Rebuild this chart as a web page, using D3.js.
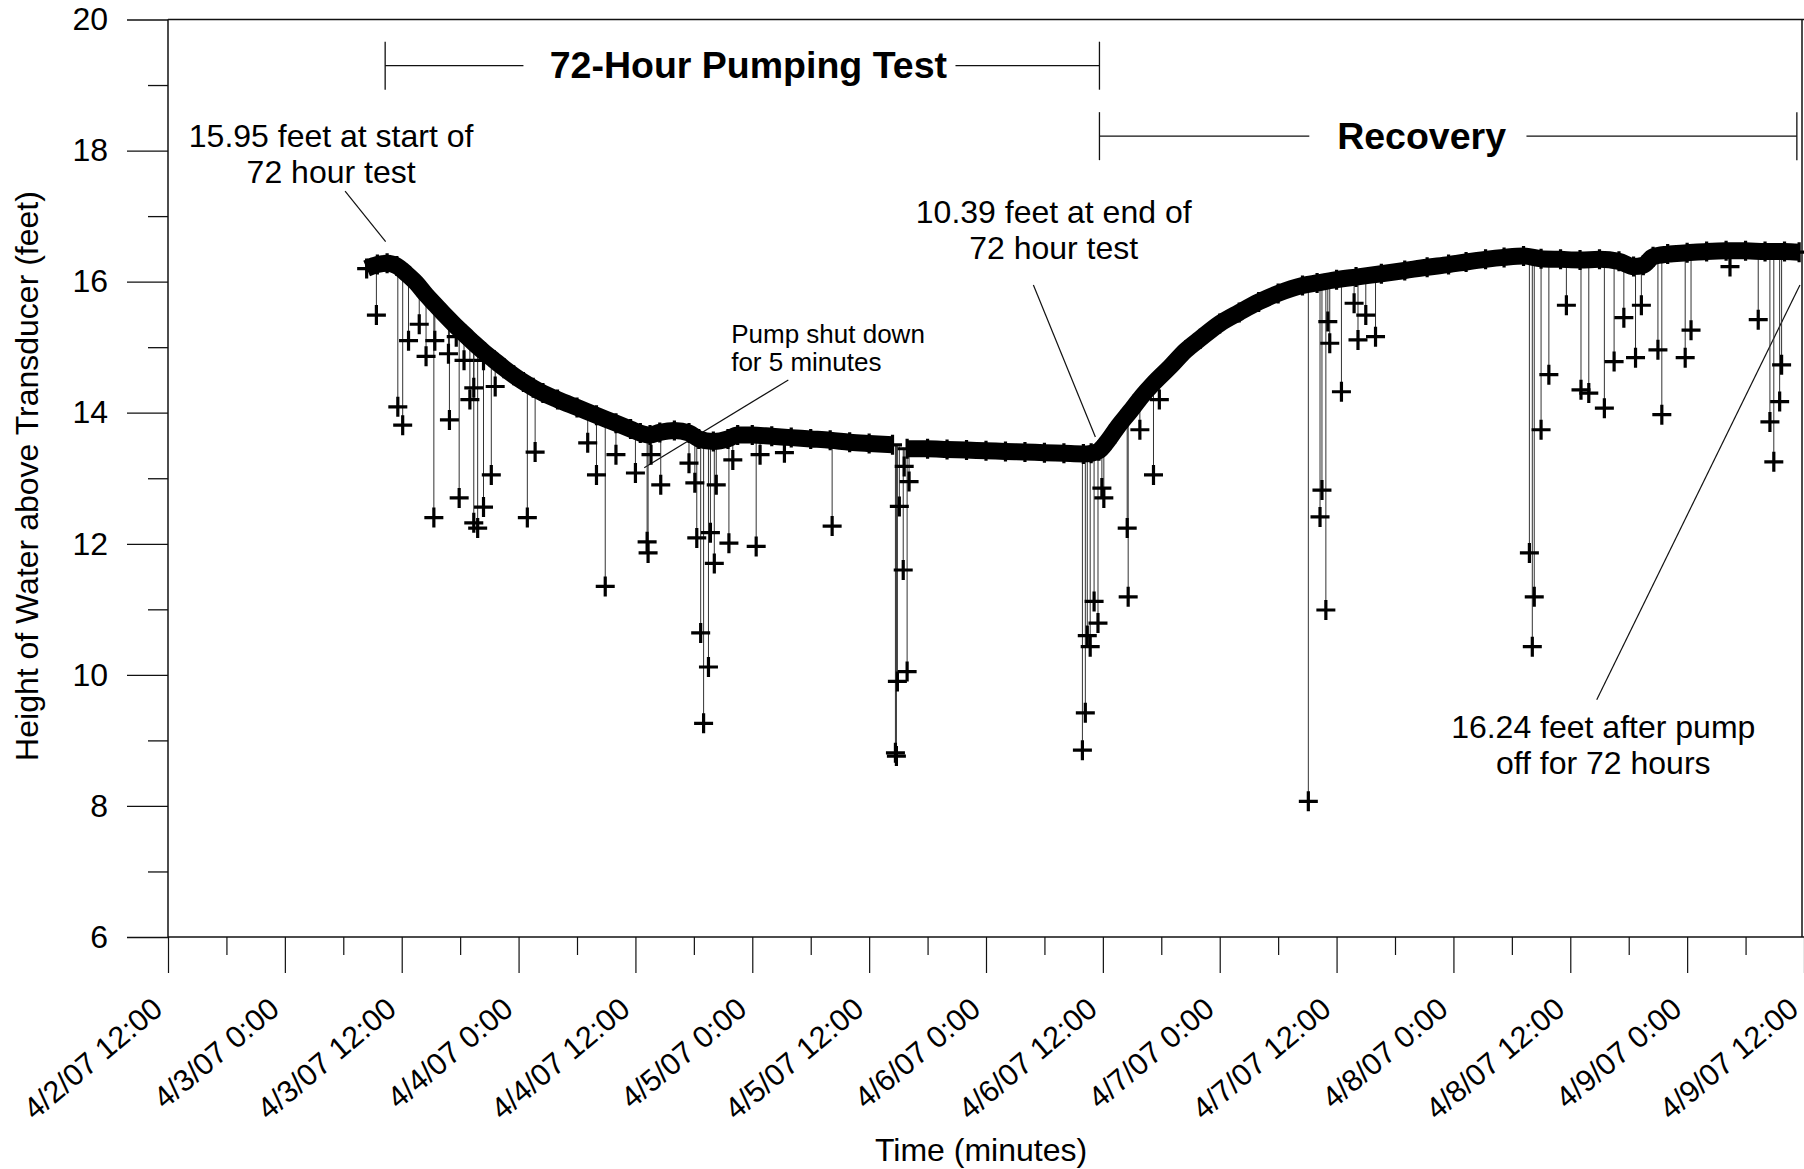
<!DOCTYPE html>
<html><head><meta charset="utf-8">
<script src="https://cdn.jsdelivr.net/npm/d3@7"></script>
<style>
html,body{margin:0;padding:0;background:#fff;}
svg{display:block;font-family:"Liberation Sans",Arial,Helvetica,sans-serif;}
</style></head><body>
<svg id="chart" width="1804" height="1169"></svg>
<script>
// ---------- data (hours after 4/2/07 12:00, feet) ----------
const startTime = new Date(2007, 3, 2, 12, 0);
const endTime = new Date(2007, 3, 9, 12, 0);
const yTicks = [6, 8, 10, 12, 14, 16, 18, 20];
const yMinorTicks = [7, 9, 11, 13, 15, 17, 19];

const baseHours = [20.4, 21.5, 22.5, 23.5, 24.5, 25.5, 26.5, 27.5, 28.5, 29.5, 30.5, 31.5, 32.5, 33.5, 34.5, 35.5, 36.5, 37.5, 38.5, 40, 42, 44, 46, 47.5, 48.5, 49.5, 50.5, 52, 53.5, 54.5, 56, 57.5, 58.5, 60, 62, 64, 66, 68, 70, 72, 74.4, 75.2, 75.9, 78, 80, 82, 84, 86, 88, 90, 92, 94, 94.8, 95.6, 96.4, 97.6, 98.8, 100, 101.2, 102.9, 104.5, 106, 108, 110, 112, 114, 116.5, 118, 120, 122, 124.6, 127, 129.3, 131.5, 133.3, 135.3, 137.2, 139.2, 141, 143, 145, 147, 149, 150.5, 151.5, 152.5, 154, 156, 158, 160, 162, 164, 166, 167.5];
const baseLevels = [16.2, 16.26, 16.28, 16.24, 16.12, 15.98, 15.8, 15.64, 15.48, 15.33, 15.19, 15.05, 14.92, 14.8, 14.68, 14.57, 14.47, 14.38, 14.3, 14.2, 14.08, 13.96, 13.84, 13.75, 13.69, 13.66, 13.7, 13.73, 13.69, 13.6, 13.56, 13.6, 13.66, 13.66, 13.64, 13.62, 13.6, 13.58, 13.55, 13.53, 13.51, null, 13.45, 13.45, 13.44, 13.43, 13.42, 13.41, 13.4, 13.39, 13.38, 13.37, 13.38, 13.42, 13.55, 13.8, 14.02, 14.25, 14.45, 14.7, 14.95, 15.13, 15.36, 15.53, 15.69, 15.82, 15.94, 15.98, 16.03, 16.07, 16.12, 16.17, 16.22, 16.26, 16.3, 16.34, 16.37, 16.39, 16.35, 16.34, 16.33, 16.34, 16.31, 16.23, 16.25, 16.38, 16.42, 16.44, 16.46, 16.47, 16.47, 16.46, 16.46, 16.45];

const spikeHours = [21.4, 23.6, 24.1, 24.7, 25.8, 26.5, 27.3, 27.4, 28.8, 28.9, 29.6, 29.9, 30.4, 31.0, 31.4, 31.4, 31.8, 32.4, 32.4, 33.2, 33.6, 36.9, 37.7, 43.1, 44.0, 44.9, 46.0, 48.0, 49.2, 49.3, 49.6, 50.6, 53.5, 54.1, 54.3, 54.7, 55.0, 55.5, 55.7, 56.1, 56.3, 57.6, 58.0, 60.4, 60.8, 63.3, 68.2, 74.7, 74.8, 74.9, 75.1, 75.5, 75.6, 75.9, 76.1, 93.9, 94.2, 94.4, 94.7, 95.1, 95.5, 95.9, 96.1, 98.5, 98.6, 99.8, 101.2, 101.8, 117.1, 118.3, 118.5, 118.9, 119.1, 119.3, 120.5, 121.8, 122.2, 123.0, 124.0, 139.8, 140.1, 140.3, 141.0, 141.8, 143.6, 145.1, 145.9, 147.5, 148.5, 149.5, 150.7, 151.3, 153.0, 153.4, 155.8, 156.4, 160.4, 163.3, 164.5, 164.9, 165.5, 165.7];
const spikeLevels = [15.49, 14.09, 13.81, 15.1, 15.35, 14.86, 12.4, 15.1, 14.9, 13.89, 15.16, 12.7, 14.8, 14.2, 12.32, 14.38, 12.24, 12.56, 14.8, 13.05, 14.4, 12.4, 13.4, 13.54, 13.05, 11.35, 13.36, 13.08, 12.03, 11.86, 13.36, 12.9, 13.23, 12.93, 12.09, 10.64, 9.26, 10.12, 12.17, 11.7, 12.9, 12.01, 13.28, 11.96, 13.36, 13.39, 12.27, 8.81, 8.76, 9.9, 12.57, 11.6, 13.18, 10.05, 12.95, 8.85, 9.42, 10.6, 10.43, 11.12, 10.79, 12.85, 12.7, 12.24, 11.19, 13.74, 13.05, 14.2, 8.07, 12.41, 12.82, 10.99, 15.39, 15.06, 14.32, 15.67, 15.11, 15.49, 15.16, 11.86, 10.43, 11.19, 13.74, 14.58, 15.64, 14.35, 14.3, 14.07, 14.78, 15.45, 14.84, 15.64, 14.96, 13.97, 14.84, 15.26, 16.23, 15.42, 13.86, 13.25, 14.17, 14.73];

// phase brackets
const phaseLabels = ["72-Hour Pumping Test", "Recovery"];
const phaseStart = [22.3, 95.65];
const phaseEnd = [95.65, 167.27];
const phaseLevel = [19.295, 18.22];
const phaseLabelHour = [59.6, 128.74];
const phaseGapLeft = [36.5, 117.2];
const phaseGapRight = [80.86, 139.5];

// annotations
const noteLines = [["15.95 feet at start of", "72 hour test"], ["10.39 feet at end of", "72 hour test"], ["Pump shut down", "for 5 minutes"], ["16.24 feet after pump", "off for 72 hours"]];
const noteHour = [16.75, 90.95, 57.84, 147.38];
const noteLevel = [18.06, 16.895, 15.06, 9.04];
const leaderFrom = [[18.19, 17.383], [88.87, 15.949], [63.7, 14.5], [146.72, 9.62]];
const leaderTo = [[22.35, 16.61], [95.24, 13.63], [48.9, 13.16], [167.58, 15.95]];

// ---------- scales ----------
const svg = d3.select("#chart");
const mLeft = 168, mRight = 1804, mTop = 19.5, mBottom = 937;
const x = d3.scaleTime().domain([startTime, endTime]).range([mLeft, mRight]);
const y = d3.scaleLinear().domain([6, 20]).range([mBottom, mTop]);
const T = h => d3.timeMinute.offset(startTime, Math.round(h * 60));
const X = h => x(T(h));

// ---------- axes ----------
const fmt = d => `${d.getMonth() + 1}/${d.getDate()}/${d3.timeFormat("%y")(d)} ${d.getHours()}:${d3.timeFormat("%M")(d)}`;
const xAx = svg.append("g").attr("transform", `translate(0,${mBottom})`)
  .call(d3.axisBottom(x).ticks(d3.timeHour.every(12)).tickFormat(fmt).tickSize(36));
xAx.select(".domain").remove();
xAx.selectAll(".tick line").attr("stroke", "#111").attr("stroke-width", 1.2);
xAx.selectAll(".tick text")
  .attr("x", 0).attr("y", 0).attr("dy", 0)
  .attr("transform", "translate(-4,75) rotate(-40)")
  .attr("text-anchor", "end").attr("font-size", 30.5).attr("fill", "#000")
  .attr("font-family", "Liberation Sans, Arial, sans-serif");
const minorX = d3.timeHour.every(6).range(startTime, endTime).filter(d => d.getHours() % 12 !== 0);
const xMin = svg.append("g").attr("transform", `translate(0,${mBottom})`)
  .call(d3.axisBottom(x).tickValues(minorX).tickFormat("").tickSize(18));
xMin.select(".domain").remove();
xMin.selectAll(".tick line").attr("stroke", "#111").attr("stroke-width", 1.2);

const yAx = svg.append("g").attr("transform", `translate(${mLeft},0)`)
  .call(d3.axisLeft(y).tickValues(yTicks).tickSize(41).tickPadding(19));
yAx.select(".domain").remove();
yAx.selectAll(".tick line").attr("stroke", "#111").attr("stroke-width", 1.3);
yAx.selectAll(".tick text").attr("font-size", 32).attr("fill", "#000")
  .attr("font-family", "Liberation Sans, Arial, sans-serif");
const yMin = svg.append("g").attr("transform", `translate(${mLeft},0)`)
  .call(d3.axisLeft(y).tickValues(yMinorTicks).tickFormat("").tickSize(20));
yMin.select(".domain").remove();
yMin.selectAll(".tick line").attr("stroke", "#111").attr("stroke-width", 1.3);

// frame
const frame = svg.append("g").attr("stroke", "#111").attr("stroke-width", 1.5).attr("fill", "none");
frame.append("line").attr("x1", mLeft).attr("x2", mLeft).attr("y1", y(20)).attr("y2", y(6));
frame.append("line").attr("x1", mLeft).attr("x2", mRight).attr("y1", y(6)).attr("y2", y(6));
frame.append("line").attr("x1", mLeft).attr("x2", mRight).attr("y1", y(20)).attr("y2", y(20));
frame.append("line").attr("x1", mRight - 2).attr("x2", mRight - 2).attr("y1", y(20)).attr("y2", y(6));

// axis titles
svg.append("text").attr("transform", `translate(38,476) rotate(-90)`)
  .attr("text-anchor", "middle").attr("font-size", 32).text("Height of Water above Transducer (feet)");
svg.append("text").attr("x", 981).attr("y", 1161).attr("text-anchor", "middle")
  .attr("font-size", 32).text("Time (minutes)");

// ---------- phase brackets ----------
const br = svg.append("g").attr("stroke", "#111").attr("stroke-width", 1.3);
phaseLabels.forEach((lab, i) => {
  const yy = y(phaseLevel[i]);
  br.append("line").attr("x1", X(phaseStart[i])).attr("x2", X(phaseGapLeft[i])).attr("y1", yy).attr("y2", yy);
  br.append("line").attr("x1", X(phaseGapRight[i])).attr("x2", X(phaseEnd[i])).attr("y1", yy).attr("y2", yy);
  [phaseStart[i], phaseEnd[i]].forEach(h => br.append("line").attr("x1", X(h)).attr("x2", X(h)).attr("y1", yy - 24).attr("y2", yy + 24));
  svg.append("text").attr("x", X(phaseLabelHour[i])).attr("y", yy + 12.5).attr("text-anchor", "middle")
    .attr("font-size", 37.5).attr("font-weight", "bold").text(lab);
});

// ---------- annotations ----------
const ann = svg.append("g");
noteLines.forEach((lines, i) => {
  const isSmall = i === 2;
  const t = ann.append("text").attr("font-size", isSmall ? 26 : 32)
    .attr("text-anchor", isSmall ? "start" : "middle");
  lines.forEach((ln, k) => t.append("tspan").attr("x", X(noteHour[i]))
    .attr("y", y(noteLevel[i]) + k * (isSmall ? 28 : 36)).text(ln));
  ann.append("line").attr("x1", X(leaderFrom[i][0])).attr("y1", y(leaderFrom[i][1]))
    .attr("x2", X(leaderTo[i][0])).attr("y2", y(leaderTo[i][1]))
    .attr("stroke", "#111").attr("stroke-width", 1.2);
});

// ---------- data ----------
const base = baseHours.map((h, i) => ({h, v: baseLevels[i]}));
const valid = base.filter(d => d.v != null);
function bandAt(h) {
  const i = d3.bisector(d => d.h).left(valid, h);
  if (i <= 0) return valid[0].v;
  if (i >= valid.length) return valid[valid.length - 1].v;
  const a = valid[i - 1], b = valid[i];
  return a.v + (b.v - a.v) * (h - a.h) / (b.h - a.h);
}
const spikes = spikeHours.map((h, i) => ({h, v: spikeLevels[i]}));
const plot = svg.append("g");
plot.selectAll("line.sp").data(spikes).join("line").attr("class", "sp")
  .attr("x1", d => X(d.h)).attr("x2", d => X(d.h))
  .attr("y1", d => y(bandAt(d.h))).attr("y2", d => y(d.v))
  .attr("stroke", "#333").attr("stroke-width", 1);
plot.append("path").datum(base)
  .attr("d", d3.line().defined(d => d.v != null).x(d => X(d.h)).y(d => y(d.v)).curve(d3.curveMonotoneX))
  .attr("fill", "none").attr("stroke", "#000").attr("stroke-width", 17);
const cross = "M-9.5,0H9.5M0,-10V10";
plot.selectAll("path.bm").data(valid).join("path").attr("class", "bm")
  .attr("d", cross).attr("transform", d => `translate(${X(d.h)},${y(d.v)})`)
  .attr("stroke", "#000").attr("stroke-width", 3.2).attr("fill", "none");
plot.selectAll("path.sm").data(spikes).join("path").attr("class", "sm")
  .attr("d", cross).attr("transform", d => `translate(${X(d.h)},${y(d.v)})`)
  .attr("stroke", "#000").attr("stroke-width", 3.2).attr("fill", "none");
</script>
</body></html>
